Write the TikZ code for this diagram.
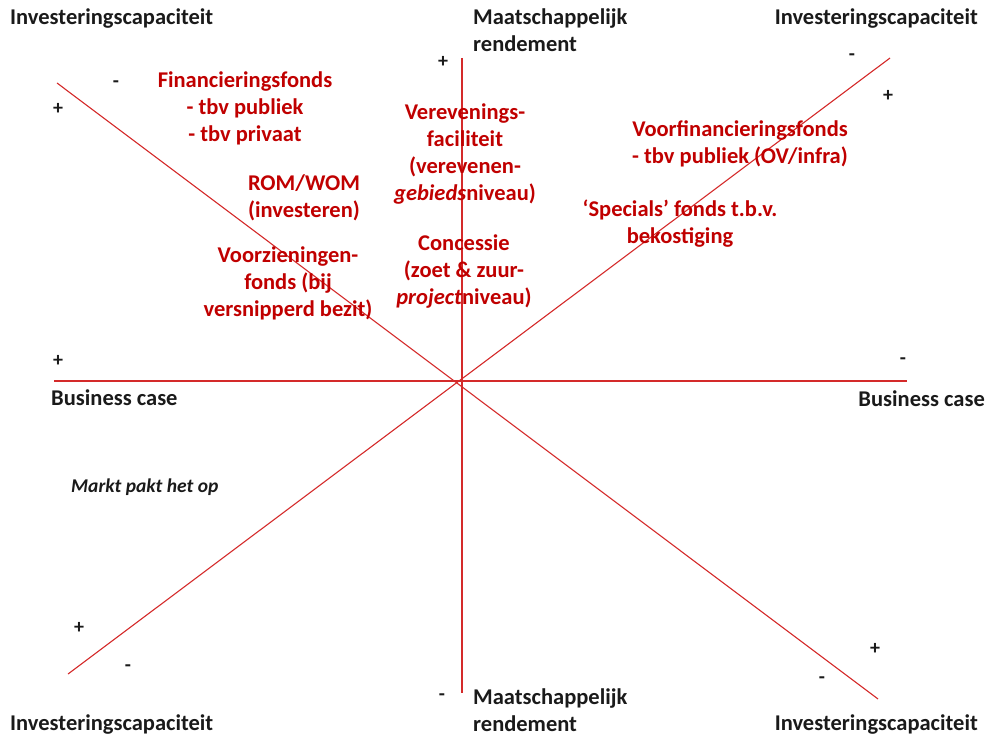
\documentclass[tikz,border=0pt]{standalone}
\usepackage{fontspec}
\setmainfont{Carlito}
\usepackage{tikz}
\definecolor{fundred}{HTML}{C00000}
\definecolor{axisred}{HTML}{D42A2A}
\definecolor{labelblack}{HTML}{1A1A1A}

\begin{document}
\begin{tikzpicture}[x=1pt,y=-1pt,
        axis/.style={draw=axisred,line width=1.1pt},
        lbl/.style={inner sep=0pt,text=labelblack,font=\fontsize{22.5}{27}\selectfont\bfseries},
        fund/.style={inner sep=0pt,align=center,text=fundred,font=\fontsize{22.5}{27}\selectfont\bfseries},
        sgn/.style={inner sep=0pt,text=labelblack,font=\fontsize{20}{24}\selectfont\bfseries}]
        \useasboundingbox (0,0) rectangle (987,738);
        % ends of the four axes
        \coordinate (bcW) at (54,381);
        \coordinate (bcE) at (907,381);
        \coordinate (mrN) at (462,58);
        \coordinate (mrS) at (462,693);
        \coordinate (icNW) at (57,83);
        \coordinate (icSE) at (878,699);
        \coordinate (icSW) at (68,674);
        \coordinate (icNE) at (890,58);
        \draw[axis] (bcW) -- (bcE);
        \draw[axis] (mrN) -- (mrS);
        \draw[axis] (icNW) -- (icSE);
        \draw[axis] (icSW) -- (icNE);
        % axis labels
        \node[lbl,anchor=base west] (invNW) at (10,25) {Investeringscapaciteit};
        \node[lbl,anchor=base east] (invNE) at (978,25) {Investeringscapaciteit};
        \node[lbl,anchor=base west] (invSW) at (10,730) {Investeringscapaciteit};
        \node[lbl,anchor=base east] (invSE) at (978,730) {Investeringscapaciteit};
        \node[lbl,anchor=base west,align=left] (maatN) at (473,52) {Maatschappelijk\\rendement};
        \node[lbl,anchor=base west,align=left] (maatS) at (473,731) {Maatschappelijk\\rendement};
        \node[lbl,anchor=base west] (bcaseW) at (51,405) {Business case};
        \node[lbl,anchor=base east] (bcaseE) at (985,406) {Business case};
        \node[lbl,anchor=base west,font=\fontsize{19.5}{23}\selectfont\bfseries\itshape] (markt) at (71,492) {Markt pakt het op};
        % plus and minus
        \node[sgn] (pNW) at (58,109) {+};
        \node[sgn] (mNW) at (116,84) {-};
        \node[sgn] (pN) at (443,62) {+};
        \node[sgn] (mNE) at (852,57) {-};
        \node[sgn] (pNE) at (888,96) {+};
        \node[sgn] (pW) at (58,361) {+};
        \node[sgn] (mE) at (903,361) {-};
        \node[sgn] (pSW) at (79,628) {+};
        \node[sgn] (mSW) at (128,668) {-};
        \node[sgn] (mS) at (442,697) {-};
        \node[sgn] (pSE) at (875,649) {+};
        \node[sgn] (mSE) at (822,680) {-};
        % funds
        \node[fund] (finfonds) at (245,108) {Financieringsfonds\\- tbv publiek\\- tbv privaat};
        \node[fund] (romwom) at (304,198) {ROM/WOM\\(investeren)};
        \node[fund] (voorzfonds) at (288,283) {Voorzieningen-\\fonds (bij\\versnipperd bezit)};
        \node[fund] (verevening) at (465,154) {Verevenings-\\faciliteit\\(verevenen-\\\textit{gebieds}niveau)};
        \node[fund] (concessie) at (464,272) {Concessie\\(zoet \& zuur-\\\textit{project}niveau)};
        \node[fund] (voorfin) at (740,144) {Voorfinancieringsfonds\\- tbv publiek (OV/infra)};
        \node[fund] (specials) at (680,224) {‘Specials’ fonds t.b.v.\\bekostiging};
\end{tikzpicture}
\end{document}
